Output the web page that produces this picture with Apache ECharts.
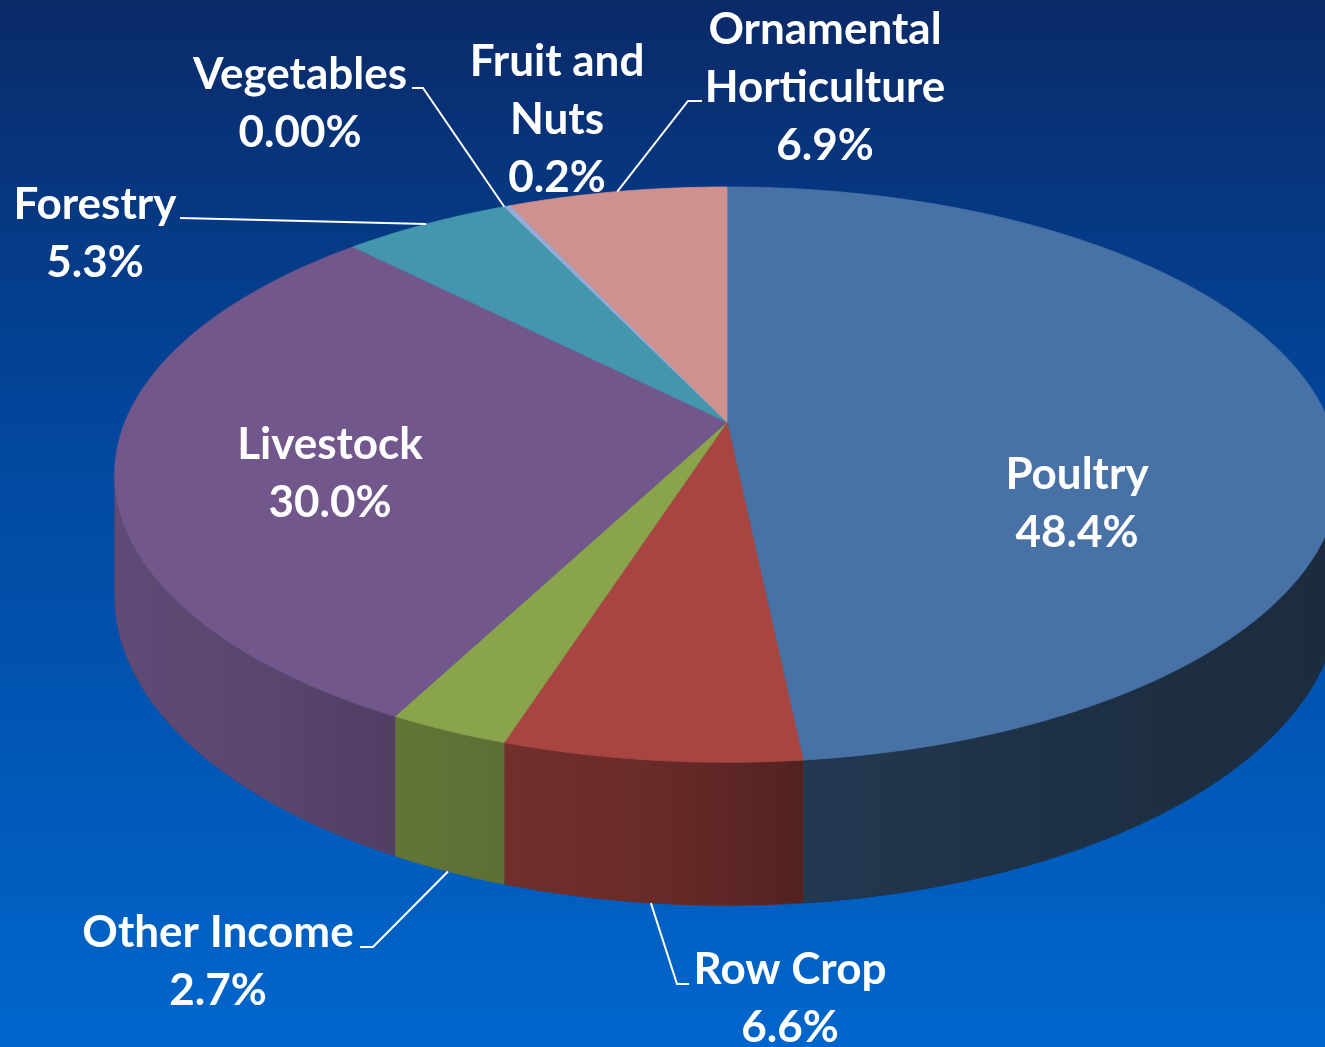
<!DOCTYPE html>
<html>
<head>
<meta charset="utf-8">
<style>
    html, body { margin: 0; padding: 0; }
    #main { width: 1325px; height: 1047px; }
</style>
<script src="https://cdn.jsdelivr.net/npm/echarts@6/dist/echarts.min.js"></script>
</head>
<body>
<div id="main"></div>
<script type="text/javascript">
    // data
    var categories = ['Poultry', 'Row Crop', 'Other Income', 'Livestock', 'Forestry', 'Vegetables', 'Fruit and Nuts', 'Ornamental Horticulture'];
    var values = [48.4, 6.6, 2.7, 30.0, 5.3, 0.0, 0.2, 6.9];
    var percentLabels = ['48.4%', '6.6%', '2.7%', '30.0%', '5.3%', '0.00%', '0.2%', '6.9%'];
    var labelNames = ['Poultry', 'Row Crop', 'Other Income', 'Livestock', 'Forestry', 'Vegetables', 'Fruit and\nNuts', 'Ornamental\nHorticulture'];
    var colors = ['#4872a6', '#a84541', '#8aa44c', '#71578b', '#4396ad', '#e0884a', '#93add6', '#cf918f'];

    // where the labels sit (first line centre) and the elbow of the leader line
    var labelLayout = [
        { x: 1077, y: 475, line: null },
        { x: 790, y: 970, line: [[689, 984], [677, 984]] },
        { x: 218, y: 933, line: [[360, 947], [373, 947]] },
        { x: 330, y: 445, line: null },
        { x: 95, y: 205, line: [[180, 218]] },
        { x: 300, y: 75, line: [[412, 88], [423, 88]] },
        { x: 557, y: 62, line: null },
        { x: 825, y: 30, line: [[702, 101], [688, 101]] }
    ];

    // 3d pie geometry (perspective view of a tilted disc)
    var CX = 727, CY = 422, RX = 602, RY = 278, TILT = 0.183, DEPTH = 117;
    var FONT = 'Lato';
    var LINE_H = 58;

    var total = values.reduce(function (a, b) { return a + b; }, 0);
    var starts = [], ends = [];
    var cum = 0;
    values.forEach(function (v) {
        starts.push(cum / total * Math.PI * 2);
        cum += v;
        ends.push(cum / total * Math.PI * 2);
    });

    function project(theta, r, drop) {
        var u = r * Math.sin(theta), v = -r * Math.cos(theta);
        var w = 1 - TILT * v;
        return [CX + RX * u / w, CY + (RY * v + drop) / w];
    }
    function arcPoints(a0, a1, drop) {
        var n = Math.max(2, Math.ceil((a1 - a0) / (Math.PI / 360)) + 1);
        var pts = [];
        for (var i = 0; i < n; i++) {
            pts.push(project(a0 + (a1 - a0) * i / (n - 1), 1, drop));
        }
        return pts;
    }
    var VIS0 = Math.acos(-TILT), VIS1 = Math.PI * 2 - VIS0;

    function shade(hex, f) {
        var r = parseInt(hex.substr(1, 2), 16), g = parseInt(hex.substr(3, 2), 16), b = parseInt(hex.substr(5, 2), 16);
        return 'rgb(' + Math.round(r * f) + ',' + Math.round(g * f) + ',' + Math.round(b * f) + ')';
    }
    // side walls get darker towards the right
    function wallFactor(theta) {
        var u = Math.sin(theta);
        return u < 0 ? 0.6 - 0.25 * u : 0.5 - 0.12 * u;
    }

    function renderWall(params, api) {
        var i = params.dataIndex;
        var a0 = Math.max(starts[i], VIS0), a1 = Math.min(ends[i], VIS1);
        if (api.value(0) <= 0 || a1 <= a0) return null;
        var pts = arcPoints(a0, a1, 0).concat(arcPoints(a0, a1, DEPTH).reverse());
        var am = (a0 + a1) / 2;
        return {
            type: 'polygon',
            shape: { points: pts },
            style: {
                fill: {
                    type: 'linear', x: 0, y: 0, x2: 1, y2: 0,
                    colorStops: [
                        { offset: 0, color: shade(colors[i], wallFactor(a1)) },
                        { offset: 0.5, color: shade(colors[i], wallFactor(am)) },
                        { offset: 1, color: shade(colors[i], wallFactor(a0)) }
                    ]
                },
                stroke: shade(colors[i], wallFactor(am)),
                lineWidth: 0.6
            }
        };
    }

    function renderTop(params, api) {
        var i = params.dataIndex;
        var children = [];
        if (api.value(0) > 0) {
            var pts = [[CX, CY]].concat(arcPoints(starts[i], ends[i], 0));
            children.push({
                type: 'polygon',
                shape: { points: pts },
                style: { fill: colors[i], stroke: colors[i], lineWidth: 0.8 }
            });
        }
        var lay = labelLayout[i];
        if (lay.line) {
            var mid = (starts[i] + ends[i]) / 2;
            var front = mid > VIS0 && mid < VIS1;
            var anchor = project(mid, 1, front ? DEPTH : 0);
            children.push({
                type: 'polyline',
                z2: 5,
                shape: { points: lay.line.concat([anchor]) },
                style: { stroke: '#ffffff', lineWidth: 2, fill: null }
            });
        }
        children.push({
            type: 'text',
            z2: 10,
            style: {
                text: labelNames[i] + '\n' + percentLabels[i],
                x: lay.x,
                y: lay.y - LINE_H / 2,
                align: 'center',
                verticalAlign: 'top',
                lineHeight: LINE_H,
                fontFamily: FONT,
                fontWeight: 'bold',
                fontSize: 44,
                fill: '#ffffff'
            }
        });
        return { type: 'group', children: children };
    }

    var myChart = echarts.init(document.getElementById('main'));
    myChart.setOption({
        animation: false,
        backgroundColor: {
            type: 'linear', x: 0, y: 0, x2: 0, y2: 1,
            colorStops: [
                { offset: 0, color: '#0a2a68' },
                { offset: 0.4, color: '#02469c' },
                { offset: 1, color: '#0066cc' }
            ]
        },
        series: [
            {
                type: 'custom',
                name: 'walls',
                coordinateSystem: 'none',
                z: 1,
                renderItem: renderWall,
                data: values.map(function (v, i) { return { name: categories[i], value: [v] }; })
            },
            {
                type: 'custom',
                name: 'tops',
                coordinateSystem: 'none',
                z: 2,
                renderItem: renderTop,
                data: values.map(function (v, i) { return { name: categories[i], value: [v] }; })
            }
        ]
    });
</script>
</body>
</html>
